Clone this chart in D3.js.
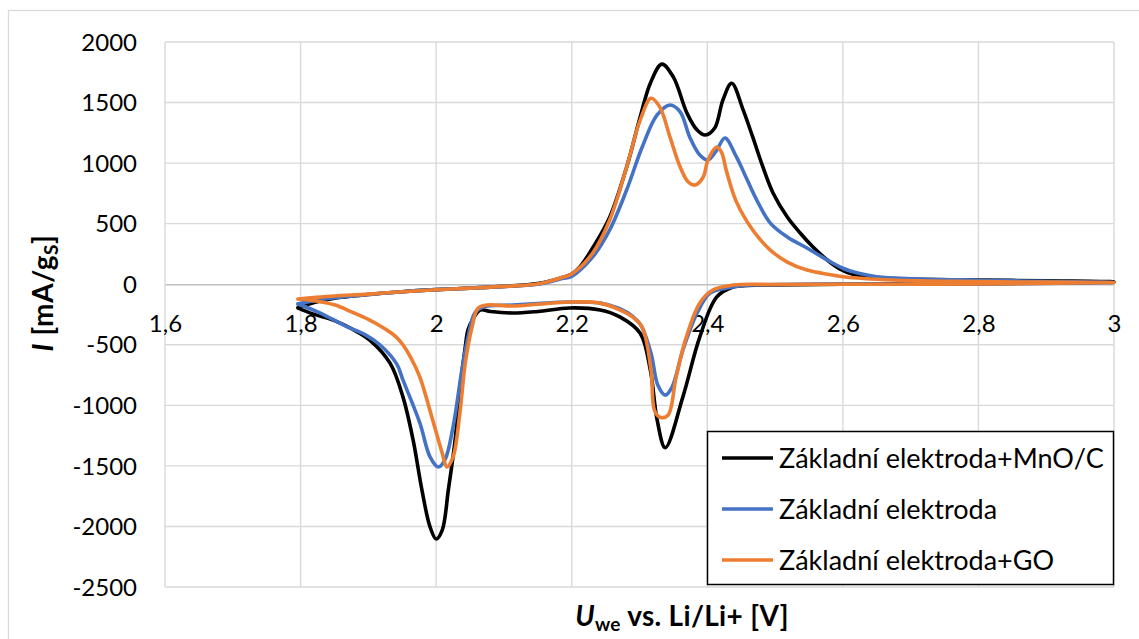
<!DOCTYPE html>
<html>
<head>
<meta charset="utf-8">
<script src="https://cdn.jsdelivr.net/npm/d3@7"></script>
<style>
  html, body { margin: 0; padding: 0; background: #fff; }
  svg { display: block; font-family: Lato, "Open Sans", sans-serif; }
</style>
</head>
<body>
<svg id="chart" width="1139" height="639"></svg>
<script>
// Cyclic voltammograms: each loop runs the anodic sweep 1.8 -> 3 V, then the cathodic sweep back.
const seriesNames = ["Základní elektroda+MnO/C", "Základní elektroda", "Základní elektroda+GO"];
const seriesColors = ["#000000", "#4472C4", "#ED7D31"];

const xTicks = [1.6, 1.8, 2.0, 2.2, 2.4, 2.6, 2.8, 3.0];
const yTicks = [2000, 1500, 1000, 500, 0, -500, -1000, -1500, -2000, -2500];

const mnoAnodic = [
  [1.796,-195],[1.82,-150],[1.85,-115],[1.9,-85],[1.95,-62],[2.0,-45],[2.05,-32],[2.1,-18],
  [2.15,5],[2.183,50],[2.2,85],[2.212,143],[2.231,300],[2.256,553],[2.281,966],[2.301,1380],
  [2.316,1660],[2.333,1817],[2.350,1710],[2.370,1413],[2.385,1273],[2.397,1232],[2.411,1290],
  [2.423,1520],[2.436,1660],[2.453,1437],[2.467,1216],[2.482,968],[2.497,753],[2.518,555],
  [2.537,423],[2.556,307],[2.577,200],[2.596,125],[2.615,82],[2.65,55],[2.7,43],[2.8,35],
  [2.9,28],[3.0,20]
];
const mnoCathodic = [
  [3.0,10],[2.8,5],[2.6,0],[2.5,-5],[2.46,-10],[2.438,-23],[2.414,-105],[2.389,-435],
  [2.364,-930],[2.338,-1350],[2.326,-1120],[2.316,-710],[2.301,-405],[2.271,-270],[2.242,-213],
  [2.197,-196],[2.15,-225],[2.113,-238],[2.08,-225],[2.065,-213],[2.054,-290],[2.047,-377],
  [2.043,-517],[2.035,-873],[2.028,-1286],[2.018,-1698],[2.009,-2030],[2.0,-2104],
  [1.991,-2004],[1.979,-1698],[1.966,-1286],[1.951,-930],[1.932,-652],[1.902,-461],
  [1.876,-370],[1.85,-300],[1.818,-245],[1.796,-195]
];

const baseAnodic = [
  [1.796,-163],[1.83,-125],[1.87,-100],[1.9,-85],[1.95,-62],[2.0,-45],[2.05,-32],[2.1,-18],
  [2.15,0],[2.183,43],[2.2,65],[2.231,225],[2.256,448],[2.281,778],[2.304,1133],[2.326,1398],
  [2.345,1480],[2.360,1423],[2.374,1216],[2.389,1067],[2.401,1026],[2.414,1108],[2.426,1207],
  [2.443,1051],[2.459,860],[2.473,695],[2.493,505],[2.518,390],[2.547,299],[2.577,200],
  [2.6,132],[2.625,88],[2.65,62],[2.7,45],[2.8,33],[2.9,24],[3.0,15]
];
const baseCathodic = [
  [3.0,8],[2.8,3],[2.6,0],[2.5,-3],[2.45,-12],[2.429,-32],[2.404,-73],[2.385,-238],
  [2.364,-544],[2.348,-850],[2.338,-916],[2.327,-833],[2.317,-569],[2.302,-338],[2.29,-265],
  [2.27,-200],[2.242,-156],[2.197,-147],[2.15,-160],[2.113,-172],[2.069,-188],[2.057,-238],
  [2.047,-437],[2.038,-707],[2.025,-1177],[2.013,-1450],[2.003,-1509],[1.991,-1426],
  [1.976,-1146],[1.951,-790],[1.942,-660],[1.917,-500],[1.895,-416],[1.868,-350],
  [1.826,-230],[1.796,-163]
];

const goAnodic = [
  [1.796,-122],[1.82,-110],[1.85,-97],[1.9,-82],[1.95,-62],[2.0,-45],[2.05,-32],[2.1,-18],
  [2.15,2],[2.183,51],[2.2,85],[2.231,258],[2.256,530],[2.281,966],[2.301,1355],[2.317,1535],
  [2.330,1462],[2.345,1215],[2.360,968],[2.372,844],[2.382,819],[2.394,885],[2.401,1026],
  [2.414,1133],[2.421,1090],[2.428,940],[2.443,680],[2.467,448],[2.493,282],[2.518,183],
  [2.547,117],[2.58,80],[2.6,62],[2.674,35],[2.8,22],[2.9,17],[3.0,14]
];
const goCathodic = [
  [3.0,6],[2.8,2],[2.6,0],[2.5,-2],[2.438,-7],[2.408,-48],[2.389,-155],[2.369,-437],
  [2.354,-767],[2.342,-1081],[2.330,-1098],[2.322,-1040],[2.317,-710],[2.304,-355],
  [2.290,-272],[2.27,-210],[2.242,-156],[2.197,-147],[2.15,-165],[2.113,-180],[2.075,-172],
  [2.062,-197],[2.053,-353],[2.043,-650],[2.035,-1063],[2.025,-1426],[2.016,-1509],
  [2.009,-1395],[1.995,-1123],[1.976,-767],[1.963,-610],[1.951,-500],[1.94,-430],
  [1.925,-370],[1.9,-290],[1.876,-230],[1.851,-172],[1.825,-140],[1.796,-122]
];

const loops = [
  mnoAnodic.concat(mnoCathodic.slice(1)),
  baseAnodic.concat(baseCathodic.slice(1)),
  goAnodic.concat(goCathodic.slice(1))
];

const svg = d3.select("#chart");
const plot = { left: 165, right: 1114, top: 42, bottom: 587 };

const x = d3.scaleLinear().domain([1.6, 3.0]).range([plot.left, plot.right]);
const y = d3.scaleLinear().domain([-2500, 2000]).range([plot.bottom, plot.top]);

// outer chart frame
svg.append("rect")
  .attr("x", 8.5).attr("y", 10.5).attr("width", 1150).attr("height", 650)
  .attr("fill", "none").attr("stroke", "#d9d9d9").attr("stroke-width", 1.3);

// grid
const grid = svg.append("g");
grid.selectAll(".gx").data(xTicks).join("line")
  .attr("x1", d => x(d)).attr("x2", d => x(d))
  .attr("y1", plot.top).attr("y2", plot.bottom)
  .attr("stroke", "#d9d9d9").attr("stroke-width", 1.4);
grid.selectAll(".gy").data(yTicks.filter(d => d !== 0)).join("line")
  .attr("x1", plot.left).attr("x2", plot.right)
  .attr("y1", d => y(d)).attr("y2", d => y(d))
  .attr("stroke", "#d9d9d9").attr("stroke-width", 1.4);

// horizontal axis crossing at zero, decimal comma labels
const commaFormat = d => (Math.round(d * 10) % 10 === 0) ? String(Math.round(d)) : d.toFixed(1).replace(".", ",");
const xAxis = d3.axisBottom(x).tickValues(xTicks).tickSize(0).tickPadding(0).tickFormat(commaFormat);
const gx = svg.append("g").attr("transform", `translate(0,${y(0)})`).call(xAxis);
gx.select(".domain").attr("stroke", "#bfbfbf").attr("stroke-width", 1.4);
gx.selectAll("text").attr("font-size", 24).attr("fill", "#000").attr("dy", null)
  .attr("y", 48).attr("font-family", "Lato");

// vertical axis labels (plain hyphen minus)
const yAxis = d3.axisLeft(y).tickValues(yTicks).tickSize(0).tickPadding(0).tickFormat(d => String(d));
const gy = svg.append("g").attr("transform", `translate(${plot.left - 28},0)`).call(yAxis);
gy.select(".domain").remove();
gy.selectAll("text").attr("font-size", 24).attr("fill", "#000").attr("dy", "0.34em")
  .attr("font-family", "Lato");

// curves
const line = d3.line().x(d => x(d[0])).y(d => y(d[1])).curve(d3.curveCatmullRom.alpha(0.5));
svg.append("g").selectAll("path").data(loops).join("path")
  .attr("d", line)
  .attr("fill", "none")
  .attr("stroke", (d, i) => seriesColors[i])
  .attr("stroke-width", 3.6)
  .attr("stroke-linejoin", "round")
  .attr("stroke-linecap", "round");

// axis titles
const yTitle = svg.append("text")
  .attr("transform", "translate(53,293) rotate(-90)")
  .attr("text-anchor", "middle").attr("font-size", 28).attr("font-weight", "bold")
  .attr("letter-spacing", 0.6);
yTitle.append("tspan").attr("font-style", "italic").text("I");
yTitle.append("tspan").text(" [mA/g");
yTitle.append("tspan").attr("font-size", 19).attr("dy", 5).text("S");
yTitle.append("tspan").attr("dy", -5).text("]");

const xTitle = svg.append("text")
  .attr("x", 682).attr("y", 626)
  .attr("text-anchor", "middle").attr("font-size", 28).attr("font-weight", "bold")
  .attr("letter-spacing", 0.3);
xTitle.append("tspan").attr("font-style", "italic").text("U");
xTitle.append("tspan").attr("font-size", 19).attr("dy", 5).text("we");
xTitle.append("tspan").attr("dy", -5).text(" vs. Li/Li+ [V]");

// legend
const legend = svg.append("g");
legend.append("rect")
  .attr("x", 707.5).attr("y", 431.5).attr("width", 406).attr("height", 153)
  .attr("fill", "#fff").attr("stroke", "#000").attr("stroke-width", 1.5);
const rows = legend.selectAll(".row").data(seriesNames).join("g")
  .attr("transform", (d, i) => `translate(0,${[458, 509, 560][i]})`);
rows.append("line")
  .attr("x1", 722).attr("x2", 773).attr("y1", 0).attr("y2", 0)
  .attr("stroke", (d, i) => seriesColors[i]).attr("stroke-width", 3.6);
rows.append("text")
  .attr("x", 779).attr("dy", "0.36em")
  .attr("font-size", 27).attr("fill", "#000")
  .text(d => d);
</script>
</body>
</html>
